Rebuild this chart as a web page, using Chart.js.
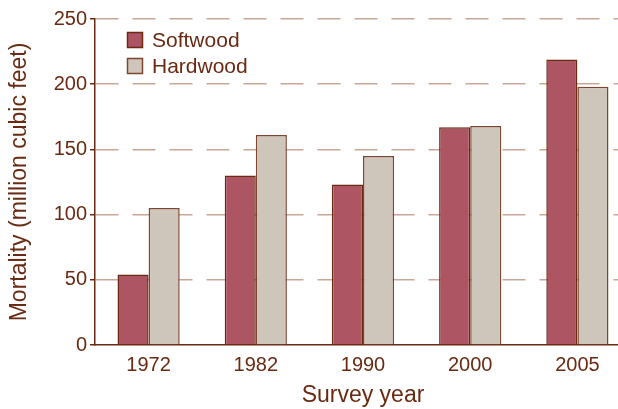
<!DOCTYPE html>
<html>
<head>
<meta charset="utf-8">
<script src="https://cdn.jsdelivr.net/npm/chart.js@4.4.1/dist/chart.umd.min.js"></script>
<style>
  html, body { margin: 0; padding: 0; overflow: hidden; background: #fff; }
  #wrap { width: 631px; height: 409px; }
</style>
</head>
<body>
<div id="wrap"><canvas id="chart" width="631" height="409"></canvas></div>
<script>
const years = ["1972", "1982", "1990", "2000", "2005"];
const softwood = [54, 130, 123, 167, 219];
const hardwood = [105, 161, 145, 168, 198];
const yTicks = [0, 50, 100, 150, 200, 250];

const ink = "#6a2a12";
const gridTone = "#c9a698";
const font = "'Liberation Sans', Arial, Helvetica, sans-serif";

// legend drawn inside the plot area, top-left
const insideLegend = {
  id: "insideLegend",
  afterDraw(chart) {
    const ctx = chart.ctx;
    ctx.save();
    ctx.font = "21px " + font;
    ctx.textBaseline = "middle";
    chart.data.datasets.forEach((ds, i) => {
      const y = 32 + i * 26;
      ctx.fillStyle = ds.backgroundColor;
      ctx.fillRect(127, y, 16, 16);
      ctx.lineWidth = 1.5;
      ctx.strokeStyle = ds.borderColor;
      ctx.strokeRect(127.5, y + 0.5, 15, 15);
      ctx.fillStyle = ink;
      ctx.fillText(ds.label, 152, y + 9);
    });
    ctx.restore();
  }
};

new Chart(document.getElementById("chart"), {
  type: "bar",
  data: {
    labels: years,
    datasets: [
      {
        label: "Softwood",
        data: softwood,
        backgroundColor: "#ad5563",
        borderColor: ink,
        borderWidth: 1.5,
        categoryPercentage: 0.58,
        barPercentage: 1
      },
      {
        label: "Hardwood",
        data: hardwood,
        backgroundColor: "#cec6bb",
        borderColor: "#7e4632",
        borderWidth: 1.5,
        categoryPercentage: 0.58,
        barPercentage: 1
      }
    ]
  },
  options: {
    responsive: false,
    animation: false,
    layout: { padding: { top: 19, right: 0, left: 0, bottom: 0 } },
    plugins: {
      legend: { display: false },
      tooltip: { enabled: false }
    },
    scales: {
      x: {
        grid: { display: false, drawTicks: false },
        border: { display: true, color: ink, width: 1.5 },
        ticks: { color: ink, padding: 8, font: { family: font, size: 20 } },
        title: {
          display: true,
          text: "Survey year",
          color: ink,
          font: { family: font, size: 23 },
          padding: { top: 0, bottom: 0 }
        },
        afterFit(scale) { scale.height = 64; }
      },
      y: {
        min: 0,
        max: 250,
        afterBuildTicks(scale) { scale.ticks = yTicks.map(v => ({ value: v })); },
        grid: {
          color: c => (c.tick && c.tick.value === 0 ? "rgba(0,0,0,0)" : gridTone),
          lineWidth: 1.5,
          tickLength: 5,
          tickColor: ink,
          tickBorderDash: []
        },
        border: { display: true, color: ink, width: 1.5, dash: [23, 14] },
        ticks: { color: ink, padding: 3, font: { family: font, size: 20 } },
        title: {
          display: true,
          text: "Mortality (million cubic feet)",
          color: ink,
          font: { family: font, size: 23 },
          padding: { top: 6, bottom: 0 }
        },
        afterFit(scale) { scale.width = 95; }
      }
    }
  },
  plugins: [insideLegend]
});
</script>
</body>
</html>
